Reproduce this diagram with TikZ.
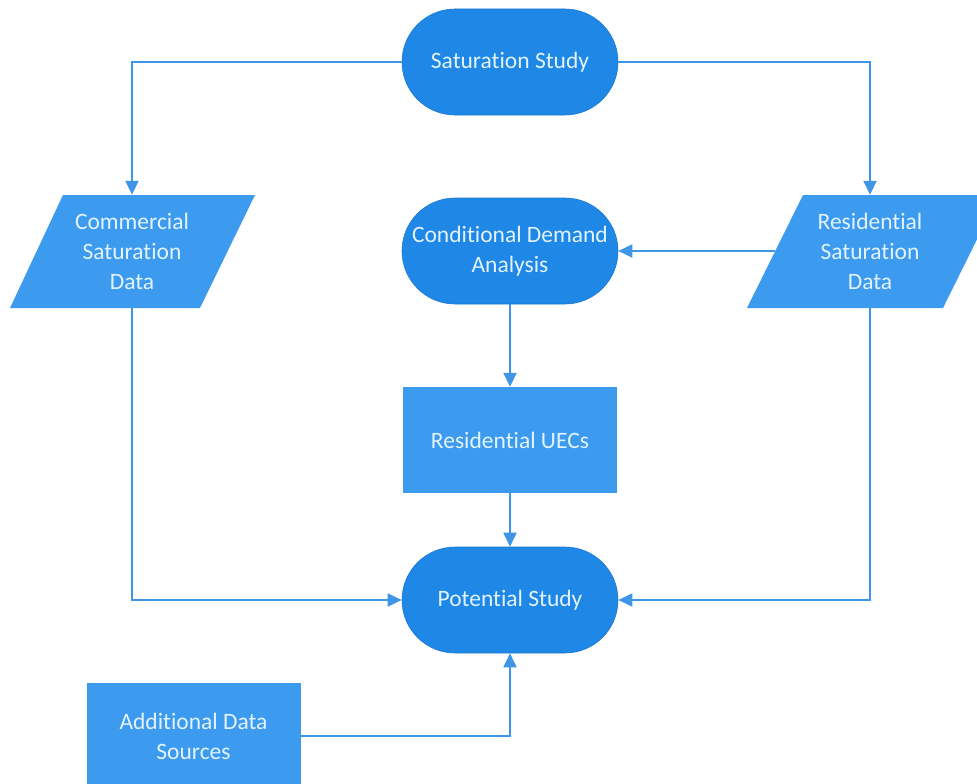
\documentclass[tikz,border=0pt]{standalone}
\usepackage{fontspec}
\setmainfont[Ligatures=NoCommon]{Carlito}
\usetikzlibrary{arrows.meta}
\definecolor{termfill}{HTML}{1F87E5}
\definecolor{boxfill}{HTML}{3D9BEF}
\definecolor{linkcol}{HTML}{3F95E6}
\definecolor{labelcol}{HTML}{E2F3FF}
\tikzset{
  x=1pt, y=-1pt,
  label text/.style={text=labelcol, font=\fontsize{23.5}{30}\selectfont, align=center},
  terminal/.style={label text, draw=termfill!90!black, line width=0.6pt, fill=termfill,
    minimum width=216pt, minimum height=106pt, rounded corners=53pt, inner sep=0pt},
  process/.style={label text, fill=boxfill, minimum width=214pt, minimum height=106pt, inner sep=0pt},
  datashape/.style={fill=boxfill},
  datalabel/.style={label text, minimum width=140pt, minimum height=113pt, inner sep=0pt},
  link/.style={draw=linkcol, line width=1.8pt, -{Triangle[length=14pt,width=13pt]}},
}
\begin{document}
\begin{tikzpicture}
\useasboundingbox (0,0) rectangle (977,784);

% terminals
\node[terminal] (sat) at (510,62) {Saturation Study};
\node[terminal] (cda) at (510,251) {Conditional Demand\\Analysis};
\node[terminal] (pot) at (510,600) {Potential Study};

% processes
\node[process] (uec) at (510,440) {Residential UECs};
\node[process] (ads) at (193.5,736) {Additional Data\\Sources};

% data (parallelograms)
\path[datashape] (10,308) -- (63,195) -- (255,195) -- (200,308) -- cycle;
\node[datalabel] (com) at (132,251.5) {Commercial\\Saturation\\Data};
\path[datashape] (747,308) -- (803,195) -- (999,195) -- (943,308) -- cycle;
\node[datalabel] (res) at (870,251.5) {Residential\\Saturation\\Data};
\coordinate (resw) at (775,251);

% connectors
\draw[link] (sat.west) -| (com.north);
\draw[link] (sat.east) -| (res.north);
\draw[link] (resw) -- (cda.east);
\draw[link] (cda.south) -- (uec.north);
\draw[link] (uec.south) -- (pot.north);
\draw[link] (com.south) |- (pot.west);
\draw[link] (res.south) |- (pot.east);
\draw[link] (ads.east) -| (pot.south);
\end{tikzpicture}
\end{document}
